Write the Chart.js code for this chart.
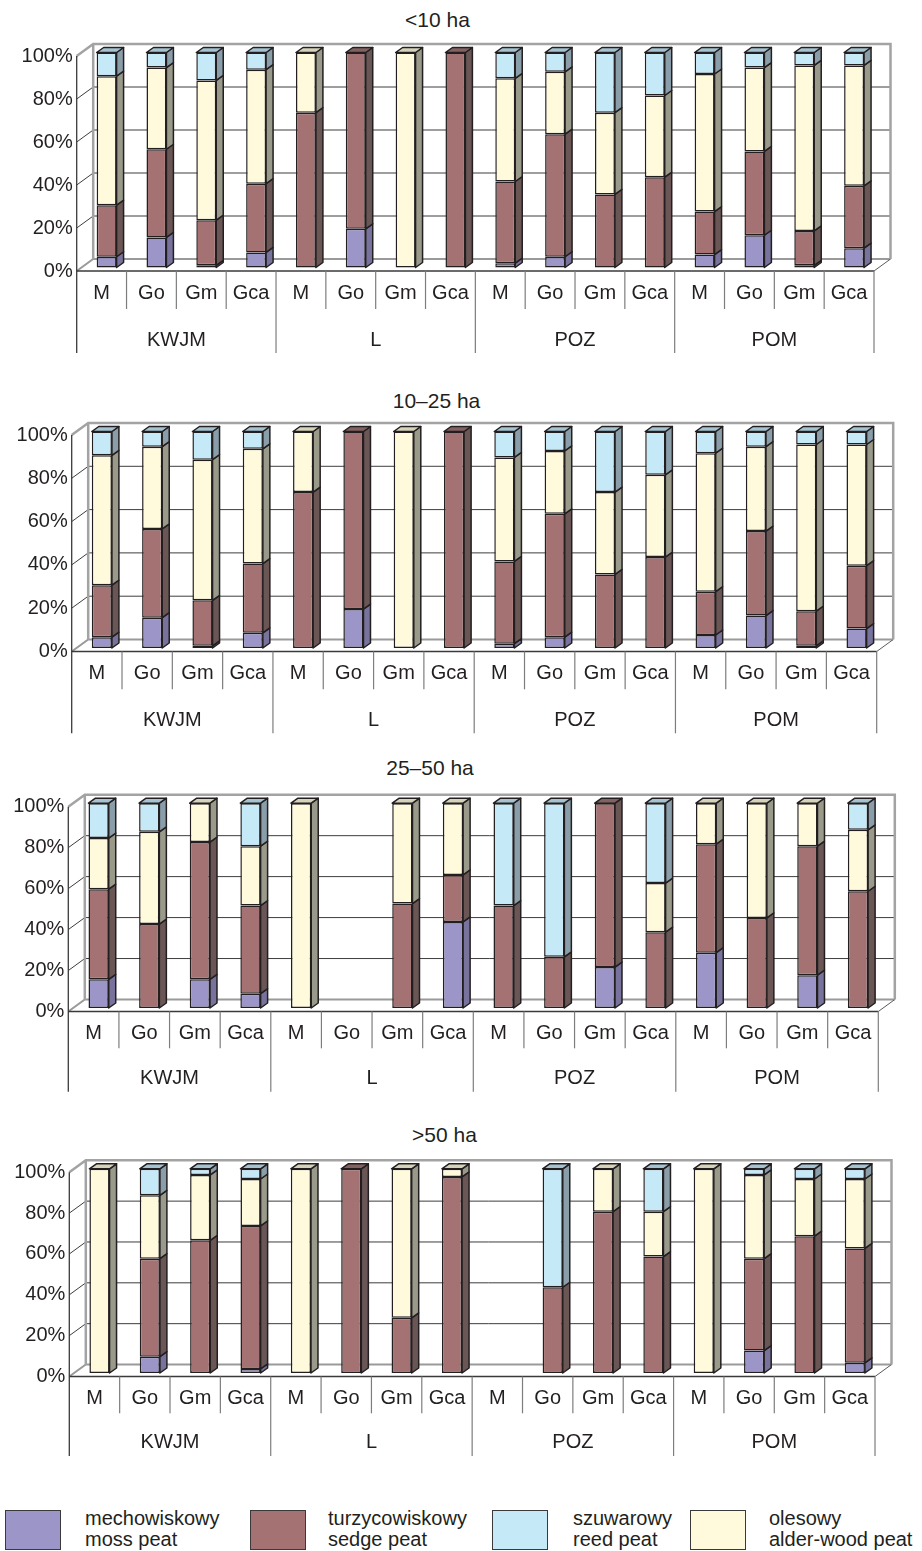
<!DOCTYPE html>
<html>
<head>
<meta charset="utf-8">
<script src="https://cdn.jsdelivr.net/npm/chart.js@4.4.1/dist/chart.umd.min.js"></script>
<style>
  html, body { margin: 0; padding: 0; background: #ffffff; }
  body { width: 922px; height: 1551px; position: relative; overflow: hidden;
         font-family: "Liberation Sans", Arial, Helvetica, sans-serif; color: #231f20; }
  canvas { position: absolute; left: 0; }
  .title { position: absolute; font-size: 21px; white-space: nowrap; transform: translate(-50%, -50%); }
  .swatch { position: absolute; top: 1510px; width: 54px; height: 38px; border: 1.5px solid #3a3a3a; }
  .ltext { position: absolute; top: 1508px; font-size: 20px; line-height: 21px; white-space: nowrap; }
</style>
</head>
<body>
<script>
// Site groups and profile categories on the category axis
const groups = ['KWJM', 'L', 'POZ', 'POM'];
const profiles = ['M', 'Go', 'Gm', 'Gca'];
const sizeClasses = ['<10 ha', '10–25 ha', '25–50 ha', '>50 ha'];
const yTicks = [0, 20, 40, 60, 80, 100];

// Peat type shares (%) per bar: KWJM M..Gca, L M..Gca, POZ M..Gca, POM M..Gca
// < 10 ha
const mossA  = [5, 14, 1, 7,    0, 18, 0, 0,     2, 5, 0, 0,      6, 15, 1, 9];
const sedgeA = [24, 41, 21, 32, 72, 82, 0, 100,  38, 57, 34, 42,  20, 39, 16, 29];
const alderA = [60, 38, 65, 53, 28, 0, 100, 0,   48, 29, 38, 38,  64, 39, 77, 56];
const reedA  = [11, 7, 13, 8,   0, 0, 0, 0,      12, 9, 28, 20,   10, 7, 6, 6];
// 10–25 ha
const mossB  = [5, 14, 1, 7,    0, 18, 0, 0,     2, 5, 0, 0,      6, 15, 1, 9];
const sedgeB = [24, 41, 21, 32, 72, 82, 0, 100,  38, 57, 34, 42,  20, 39, 16, 29];
const alderB = [60, 38, 65, 53, 28, 0, 100, 0,   48, 29, 38, 38,  64, 39, 77, 56];
const reedB  = [11, 7, 13, 8,   0, 0, 0, 0,      12, 9, 28, 20,   10, 7, 6, 6];
// 25–50 ha
const mossC  = [14, 0, 14, 7,   0, 0, 0, 42,     0, 0, 20, 0,     27, 0, 16, 0];
const sedgeC = [44, 41, 67, 43, 0, 0, 51, 23,    50, 25, 80, 37,  53, 44, 63, 57];
const alderC = [25, 45, 19, 29, 100, 0, 49, 35,  0, 0, 0, 24,     20, 56, 21, 30];
const reedC  = [17, 14, 0, 21,  0, 0, 0, 0,      50, 75, 0, 39,   0, 0, 0, 13];
// > 50 ha
const mossD  = [0, 8, 0, 2,     0, 0, 0, 0,      0, 0, 0, 0,      0, 11, 0, 5];
const sedgeD = [0, 48, 65, 70,  0, 100, 27, 96,  0, 42, 79, 57,   0, 45, 67, 56];
const alderD = [100, 31, 32, 23, 100, 0, 73, 4,  0, 0, 21, 22,    100, 41, 28, 34];
const reedD  = [0, 13, 3, 5,    0, 0, 0, 0,      0, 58, 0, 21,    0, 3, 5, 5];

// Legend names (Polish / English)
const peatPL = ['mechowiskowy', 'turzycowiskowy', 'szuwarowy', 'olesowy'];
const peatEN = ['moss peat', 'sedge peat', 'reed peat', 'alder-wood peat'];

const panelData = [
  { moss: mossA, sedge: sedgeA, alder: alderA, reed: reedA },
  { moss: mossB, sedge: sedgeB, alder: alderB, reed: reedB },
  { moss: mossC, sedge: sedgeC, alder: alderC, reed: reedC },
  { moss: mossD, sedge: sedgeD, alder: alderD, reed: reedD }
];

// Colours: front face, side face, top face
const style = {
  moss:  { front: '#9b95c8', side: '#77739d', top: '#8884b2' },
  sedge: { front: '#a47272', side: '#6b5656', top: '#836262' },
  reed:  { front: '#c6e9f8', side: '#8a9eaa', top: '#a5c3d0' },
  alder: { front: '#fffadb', side: '#9a9a8b', top: '#d6d3bb' }
};
const INK = '#231f20';
const FONT = '"Liberation Sans", Arial, Helvetica, sans-serif';

// Page geometry of each panel (front plane of the 3D box)
const frames = [
  { top: 0,    height: 370, left: 76.7, right: 874,   y100: 56,     y0: 271,    catDrop: 22.3, sepDrop: 38,   groupDrop: 69,   endDrop: 82,   title: [437.5, 20] },
  { top: 372,  height: 372, left: 71.7, right: 876.7, y100: 435,    y0: 651.5,  catDrop: 21.8, sepDrop: 37.8, groupDrop: 68.5, endDrop: 81.8, title: [436.5, 400.7] },
  { top: 750,  height: 350, left: 68.3, right: 878.3, y100: 806.7,  y0: 1011.5, catDrop: 21.8, sepDrop: 36.8, groupDrop: 66.8, endDrop: 80.2, title: [430, 768.3] },
  { top: 1110, height: 360, left: 69.3, right: 875,   y100: 1172.3, y0: 1376.5, catDrop: 21.8, sepDrop: 36.8, groupDrop: 66.2, endDrop: 79.5, title: [444.5, 1135] }
];
const WALL = { dx: 16.5, dy: -12 };   // depth of the box
const SHIFT = { dx: 5, dy: -3.5 };    // bars stand a little behind the front plane
const BAR = { dx: 7, dy: -5 };        // bar depth

const labels = [];
groups.forEach(() => profiles.forEach(p => labels.push(p)));

function boxPlugin(f) {
  return {
    id: 'box3d',
    beforeDatasetsDraw(chart) {
      const ctx = chart.ctx;
      const ys = chart.scales.y, xs = chart.scales.x;
      const L = chart.chartArea.left, R = chart.chartArea.right;
      const y0 = ys.getPixelForValue(0), y100 = ys.getPixelForValue(100);
      const bx = WALL.dx, by = WALL.dy;
      ctx.save();
      ctx.lineCap = 'butt';
      // inner gridlines on back wall and left side wall
      ctx.strokeStyle = '#3d3d3d';
      ctx.lineWidth = 1;
      yTicks.slice(1, -1).forEach(v => {
        const y = ys.getPixelForValue(v);
        ctx.beginPath();
        ctx.moveTo(L, y); ctx.lineTo(L + bx, y + by); ctx.lineTo(R + bx, y + by);
        ctx.stroke();
      });
      // back floor edge and floor right diagonal
      ctx.strokeStyle = '#9a9a9a';
      ctx.lineWidth = 2;
      ctx.beginPath();
      ctx.moveTo(L, y0); ctx.lineTo(L + bx, y0 + by); ctx.lineTo(R + bx, y0 + by);
      ctx.stroke();
      ctx.strokeStyle = '#5a5a5a';
      ctx.lineWidth = 1;
      ctx.beginPath();
      ctx.moveTo(R, y0); ctx.lineTo(R + bx, y0 + by);
      ctx.stroke();
      // back wall frame
      ctx.strokeStyle = '#a3a3a3';
      ctx.lineWidth = 2.5;
      ctx.beginPath();
      ctx.moveTo(L, y100); ctx.lineTo(L + bx, y100 + by);
      ctx.lineTo(R + bx, y100 + by); ctx.lineTo(R + bx, y0 + by);
      ctx.moveTo(L + bx, y100 + by); ctx.lineTo(L + bx, y0 + by);
      ctx.stroke();
      // floor front edge
      ctx.strokeStyle = '#3a3a3a';
      ctx.lineWidth = 1.5;
      ctx.beginPath();
      ctx.moveTo(L, y0); ctx.lineTo(R, y0);
      ctx.stroke();
      // front value axis, running down through the label rows
      ctx.lineWidth = 1.3;
      ctx.beginPath();
      ctx.moveTo(L, y100); ctx.lineTo(L, y0 + f.endDrop);
      ctx.stroke();
      // separators between categories and groups
      const n = labels.length;
      const step = (R - L) / n;
      ctx.strokeStyle = '#7d7d7d';
      ctx.lineWidth = 1.2;
      for (let i = 1; i <= n; i++) {
        const x = L + i * step;
        ctx.beginPath();
        ctx.moveTo(x, y0);
        ctx.lineTo(x, y0 + (i % profiles.length === 0 ? f.endDrop : f.sepDrop));
        ctx.stroke();
      }
      // group names
      ctx.fillStyle = INK;
      ctx.font = '20px ' + FONT;
      ctx.textAlign = 'center';
      ctx.textBaseline = 'middle';
      groups.forEach((g, gi) => {
        const a = xs.getPixelForValue(gi * profiles.length);
        const b = xs.getPixelForValue(gi * profiles.length + profiles.length - 1);
        ctx.fillText(g, (a + b) / 2, y0 + f.groupDrop);
      });
      ctx.restore();
      // bars are drawn slightly behind the front plane
      ctx.save();
      ctx.translate(SHIFT.dx, SHIFT.dy);
    },
    afterDatasetsDraw(chart) {
      const ctx = chart.ctx;
      const sets = chart.data.datasets;
      const topIdx = labels.map((_, i) => {
        let t = -1;
        sets.forEach((ds, di) => { if (ds.data[i] > 0) t = di; });
        return t;
      });
      ctx.strokeStyle = INK;
      ctx.lineWidth = 1.5;
      ctx.lineJoin = 'round';
      sets.forEach((ds, di) => {
        const meta = chart.getDatasetMeta(di);
        meta.data.forEach((bar, i) => {
          if (!(ds.data[i] > 0)) return;
          const p = bar.getProps(['x', 'y', 'base', 'width'], true);
          const l = p.x - p.width / 2, r = p.x + p.width / 2;
          const top = Math.min(p.y, p.base), bot = Math.max(p.y, p.base);
          ctx.fillStyle = ds.sideColor;
          ctx.beginPath();
          ctx.moveTo(r, top); ctx.lineTo(r + BAR.dx, top + BAR.dy);
          ctx.lineTo(r + BAR.dx, bot + BAR.dy); ctx.lineTo(r, bot);
          ctx.closePath();
          ctx.fill(); ctx.stroke();
          if (topIdx[i] === di) {
            ctx.fillStyle = ds.topColor;
            ctx.beginPath();
            ctx.moveTo(l, top); ctx.lineTo(l + BAR.dx, top + BAR.dy);
            ctx.lineTo(r + BAR.dx, top + BAR.dy); ctx.lineTo(r, top);
            ctx.closePath();
            ctx.fill(); ctx.stroke();
          }
        });
      });
      ctx.restore();
    }
  };
}

function makeDataset(name, key, values) {
  return {
    label: name,
    data: values,
    backgroundColor: style[key].front,
    sideColor: style[key].side,
    topColor: style[key].top,
    borderColor: INK,
    borderWidth: 1.5,
    borderSkipped: false,
    barPercentage: 0.4,
    categoryPercentage: 1,
    clip: false
  };
}

frames.forEach((f, k) => {
  const t = document.createElement('div');
  t.className = 'title';
  t.textContent = sizeClasses[k];
  t.style.left = f.title[0] + 'px';
  t.style.top = f.title[1] + 'px';
  document.body.appendChild(t);

  const cv = document.createElement('canvas');
  cv.width = 922; cv.height = f.height;
  cv.style.top = f.top + 'px';
  cv.style.width = '922px'; cv.style.height = f.height + 'px';
  document.body.appendChild(cv);

  const d = panelData[k];
  new Chart(cv, {
    type: 'bar',
    data: {
      labels: labels,
      datasets: [
        makeDataset(peatEN[0], 'moss', d.moss),
        makeDataset(peatEN[1], 'sedge', d.sedge),
        makeDataset(peatEN[3], 'alder', d.alder),
        makeDataset(peatEN[2], 'reed', d.reed)
      ]
    },
    options: {
      responsive: false,
      animation: false,
      devicePixelRatio: 1,
      layout: { padding: { left: 0, right: 922 - f.right, top: f.y100 - f.top, bottom: 0 } },
      plugins: { legend: { display: false }, tooltip: { enabled: false }, title: { display: false } },
      scales: {
        x: {
          stacked: true,
          grid: { display: false, drawTicks: false },
          border: { display: false },
          ticks: { color: INK, font: { family: FONT, size: 20, lineHeight: 1.2 },
                   padding: f.catDrop - 12, autoSkip: false, maxRotation: 0 },
          afterFit(s) { s.height = f.top + f.height - f.y0; }
        },
        y: {
          stacked: true, min: 0, max: 100,
          grid: { display: false, drawTicks: false },
          border: { display: false },
          ticks: { stepSize: 20, color: INK, font: { family: FONT, size: 20 }, padding: 4,
                   callback: v => v + '%' },
          afterFit(s) { s.width = f.left; }
        }
      }
    },
    plugins: [boxPlugin(f)]
  });
});

// Legend
const legendKeys = ['moss', 'sedge', 'reed', 'alder'];
const swatchX = [5, 250, 492, 690];
const textX = [85, 328, 573, 769];
legendKeys.forEach((key, i) => {
  const sw = document.createElement('div');
  sw.className = 'swatch';
  sw.style.left = swatchX[i] + 'px';
  sw.style.background = style[key].front;
  document.body.appendChild(sw);
  const tx = document.createElement('div');
  tx.className = 'ltext';
  tx.style.left = textX[i] + 'px';
  tx.innerHTML = peatPL[i] + '<br>' + peatEN[i];
  document.body.appendChild(tx);
});
</script>
</body>
</html>
